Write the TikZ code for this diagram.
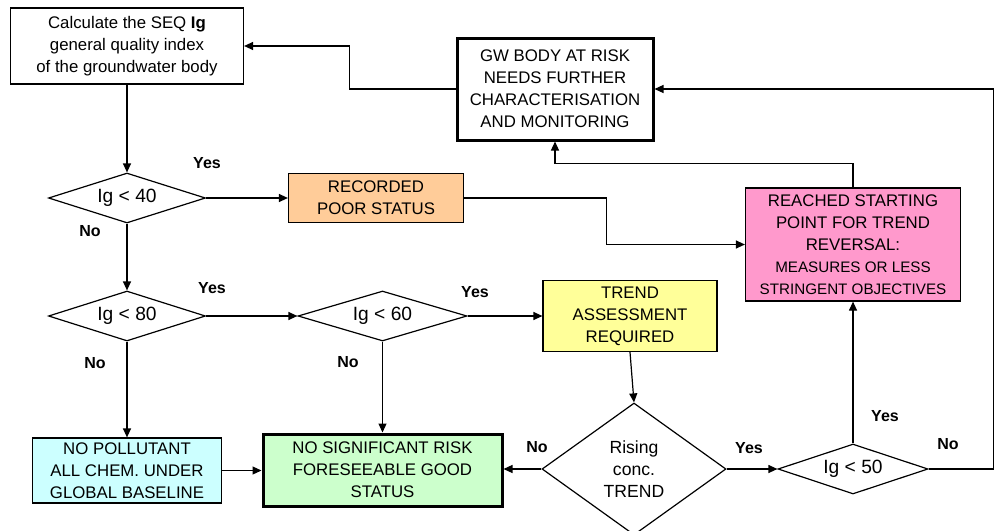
\documentclass[tikz,border=0pt]{standalone}
\usepackage{fontspec}
\setmainfont{Liberation Sans}
\usetikzlibrary{shapes.geometric,arrows.meta}
\definecolor{recorange}{HTML}{FFCC99}
\definecolor{reachpink}{HTML}{FF99CC}
\definecolor{trendyellow}{HTML}{FFFF99}
\definecolor{goodgreen}{HTML}{CCFFCC}
\definecolor{basecyan}{HTML}{CCFFFF}
\newcommand{\smallsize}{\fontsize{7.6}{10}\selectfont}
\tikzset{
  box/.style={draw,line width=0.6pt,align=center,inner sep=1pt,font=\fontsize{8.4}{11}\selectfont},
  boldbox/.style={box,line width=1.5pt},
  decision/.style={diamond,draw,line width=0.6pt,inner sep=0pt,align=center,font=\fontsize{9.6}{11}\selectfont},
  answer/.style={font=\fontsize{8}{9}\selectfont\bfseries},
  arr/.style={line width=0.6pt,-{Triangle[length=4.5pt,width=4pt]}}
}

\begin{document}
\begin{tikzpicture}[x=0.5pt,y=-0.5pt]
	\useasboundingbox (0,0) rectangle (995,530);
	\clip (0,0) rectangle (995,530);
	% boxes
	\node[box,minimum width=116.5pt,minimum height=38pt] (calc) at (127,46) {Calculate the SEQ \textbf{Ig}\\general quality index\\of the groundwater body};
	\node[boldbox,minimum width=98pt,minimum height=51pt] (gw) at (555,89) {GW BODY AT RISK\\NEEDS FURTHER\\CHARACTERISATION\\AND MONITORING};
	\node[box,fill=recorange,minimum width=87.5pt,minimum height=24.5pt] (rec) at (376,198) {RECORDED\\POOR STATUS};
	\node[box,fill=reachpink,minimum width=107.5pt,minimum height=56.5pt] (reach) at (853,244.5) {REACHED STARTING\\POINT FOR TREND\\REVERSAL:\\\smallsize MEASURES OR LESS\\\smallsize STRINGENT OBJECTIVES};
	\node[box,fill=trendyellow,minimum width=87pt,minimum height=35.5pt] (trend) at (630,316) {TREND\\ASSESSMENT\\REQUIRED};
	\node[box,fill=basecyan,minimum width=94.5pt,minimum height=32.5pt] (nopol) at (127,470.5) {NO POLLUTANT\\ALL CHEM. UNDER\\GLOBAL BASELINE};
	\node[boldbox,fill=goodgreen,minimum width=119.5pt,minimum height=36pt] (nosig) at (382.5,470) {NO SIGNIFICANT RISK\\FORESEEABLE GOOD\\STATUS};
	% decisions
	\node[decision,aspect=3.14,minimum width=78.5pt,minimum height=25pt] (ig40) at (127,198) {Ig < 40};
	\node[decision,aspect=3.14,minimum width=78.5pt,minimum height=25pt] (ig80) at (127,316) {Ig < 80};
	\node[decision,aspect=3.4,minimum width=84.5pt,minimum height=25pt] (ig60) at (382.5,316) {Ig < 60};
	\node[decision,aspect=1.4,minimum width=92pt,minimum height=66pt,font=\fontsize{8.8}{11}\selectfont] (rising) at (634,469) {Rising\\conc.\\TREND};
	\node[decision,aspect=3,minimum width=75pt,minimum height=25pt] (ig50) at (853,469) {Ig < 50};
	% yes / no
	\node[answer] (yes40) at (207,163) {Yes};
	\node[answer] (no40) at (90,231) {No};
	\node[answer] (yes80) at (212,288) {Yes};
	\node[answer] (no80) at (95,363) {No};
	\node[answer] (yes60) at (475,292) {Yes};
	\node[answer] (no60) at (348,362) {No};
	\node[answer] (norise) at (537,447) {No};
	\node[answer] (yesrise) at (749,448) {Yes};
	\node[answer] (yes50) at (885,416) {Yes};
	\node[answer] (no50) at (948,444) {No};
	% connectors
	\draw[arr] (calc) -- (ig40);
	\draw[arr] (ig40) -- (rec);
	\draw[arr] (ig40) -- (ig80);
	\draw[arr] (ig80) -- (ig60);
	\draw[arr] (ig80) -- (nopol);
	\draw[arr] (nopol) -- (nopol.east -| nosig.west);
	\draw[arr] (ig60) -- (nosig);
	\draw[arr] (ig60) -- (trend);
	\draw[arr] (trend.south) -- (rising.north);
	\draw[arr] (rising.west) -- (rising.west -| nosig.east);
	\draw[arr] (rising) -- (ig50);
	\draw[arr] (ig50) -- (reach);
	\draw[arr] (ig50.east) -- ++(65,0) |- (gw.east);
	\draw[arr] (reach.north) -- ++(0,-24) -| (gw.south);
	\draw[arr] (rec.east) -- ++(142,0) |- (reach.west);
	\draw[arr] (gw.west) -- ++(-106,0) |- (calc.east);
\end{tikzpicture}
\end{document}
